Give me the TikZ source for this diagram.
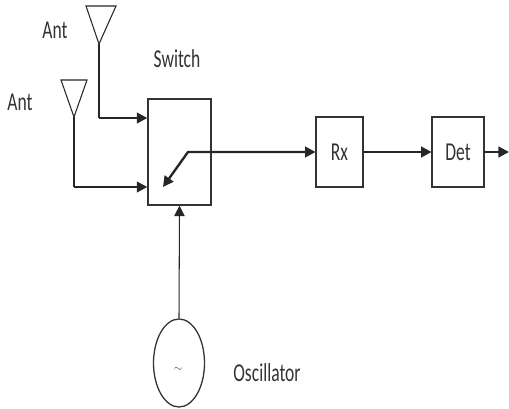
\documentclass[tikz,border=0pt]{standalone}
\usepackage{fontspec}
\setmainfont{Carlito}
\usetikzlibrary{arrows.meta,shapes.geometric}

\tikzset{
  lbl/.style={font=\fontsize{22}{26}\selectfont, text=black!80, xscale=0.68, transform shape, inner sep=0pt},
  blk/.style={draw=black!80, line width=1.1pt, fill=white, inner sep=0pt},
  wire/.style={draw=black!85, line width=0.9pt},
  bus/.style={draw=black!85, line width=2pt},
  tip/.style={-{Triangle[length=9pt,width=9pt]}}
}

\begin{document}
\begin{tikzpicture}[x=0.03cm,y=-0.03cm]
      \useasboundingbox (0,0) rectangle (509,408);
      % blocks (Rx, Det widths make up for the squeezed text)
      \node [blk, minimum width=1.89cm, minimum height=3.18cm] (sw) at (179.5,152) {};
      \node [blk, lbl, minimum width=2.07cm, minimum height=2.1cm] (rx) at (339.5,152) {Rx};
      \node [blk, lbl, minimum width=2.29cm, minimum height=2.1cm] (det) at (458,152) {Det};
      \node [draw=black!80, line width=1.1pt, ellipse, minimum width=1.53cm, minimum height=2.64cm, inner sep=0pt] (osc) at (179,363) {};
      \node [font=\small, text=black!80] (tl) at (178,370) {$\sim$};
      % labels
      \node [lbl] (ant1lbl) at (55,30) {Ant};
      \node [lbl] (ant2lbl) at (20,102) {Ant};
      \node [lbl] (swlbl) at (177,59) {Switch};
      \node [lbl] (osclbl) at (267,373) {Oscillator};
      % antennas
      \draw [wire] (86,6) -- (116,6) -- (99,44) -- cycle;
      \draw [wire] (61,80) -- (87,80) -- (74,117) -- cycle;
      \coordinate (a1) at (99,44);
      \coordinate (a2) at (74,117);
      \coordinate (k1) at (99,118);
      \coordinate (k2) at (74,187);
      \coordinate (pv) at (188,152);
      \coordinate (sp) at (163,187);
      \coordinate (out) at (509,152);
      % connectors
      \draw [wire] (a1) -- (k1);
      \draw [bus, tip] (k1) -- (k1 -| sw.west);
      \draw [wire] (a2) -- (k2);
      \draw [bus, tip] (k2) -- (k2 -| sw.west);
      \draw [bus, {Triangle[length=9pt,width=9pt]}-{Triangle[length=9pt,width=9pt]}] (sp) -- (pv) -- (rx.west);
      \draw [bus, tip] (rx.east) -- (det.west);
      \draw [bus, tip] (det.east) -- (out);
      \draw [wire, tip] (osc.north) -- (sw.south);
\end{tikzpicture}
\end{document}
